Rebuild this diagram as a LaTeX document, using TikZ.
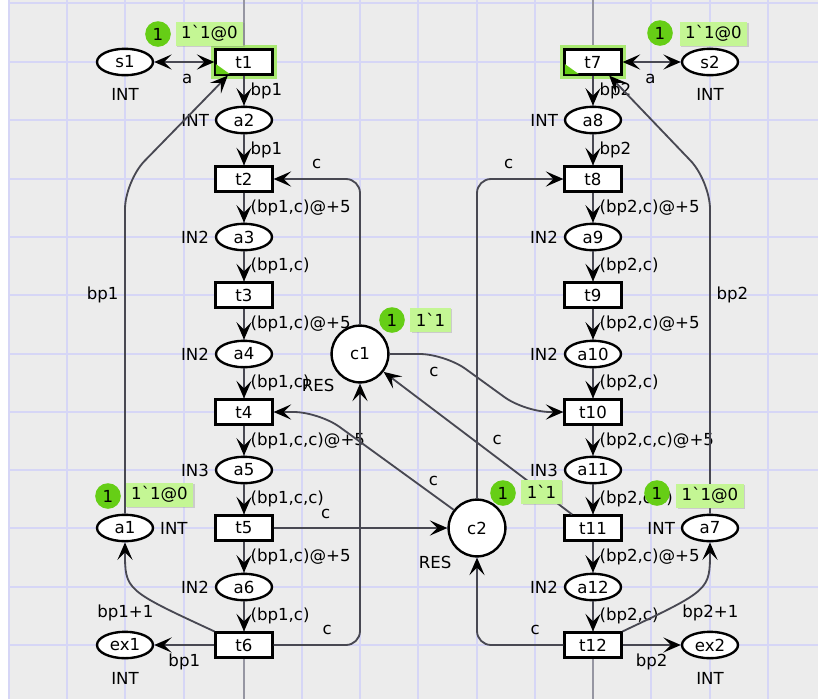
\documentclass[tikz,border=0pt]{standalone}
\usepackage{fontspec}
\setmainfont{DejaVu Sans}
\usetikzlibrary{arrows.meta, positioning, shapes.geometric, shadows}

\definecolor{canvas}{RGB}{236,236,236}
\definecolor{gridblue}{RGB}{214,214,246}
\definecolor{colgray}{RGB}{150,150,162}
\definecolor{arcgray}{RGB}{72,72,82}
\definecolor{tokgreen}{RGB}{102,206,22}
\definecolor{markgreen}{RGB}{196,246,148}
\definecolor{glowgreen}{RGB}{168,232,112}

\begin{document}
\begin{tikzpicture}[
  x=0.025cm, y=-0.025cm,
  font=\fontsize{11.8}{14}\selectfont,
  label distance=3pt,
  placebox/.style={ellipse, draw=black, line width=1.7pt, fill=white,
    minimum width=1.4cm, minimum height=0.66cm, inner sep=0pt},
  transbox/.style={rectangle, draw=black, line width=1.7pt, fill=white,
    minimum width=1.42cm, minimum height=0.62cm, inner sep=0pt},
  resbox/.style={circle, draw=black, line width=1.7pt, fill=white,
    minimum size=1.42cm, inner sep=0pt},
  enabled/.style={preaction={draw=glowgreen, line width=6pt}},
  arr/.style={-{Stealth[length=4.4mm, width=3.8mm, inset=1.9mm, color=black]}, line width=1.3pt, draw=arcgray},
  darr/.style={{Stealth[length=4.4mm, width=3.8mm, inset=1.9mm, color=black]}-{Stealth[length=4.4mm, width=3.8mm, inset=1.9mm, color=black]},
    line width=1.3pt, draw=arcgray},
  lbl/.style={inner sep=1pt},
  tok/.style={circle, fill=tokgreen, minimum size=0.64cm, inner sep=0pt},
  tokbox/.style={fill=markgreen, minimum height=0.6cm, inner xsep=4pt, inner ysep=0pt,
    drop shadow={shadow xshift=1pt, shadow yshift=-1pt, opacity=0.3}},
  gridline/.style={draw=gridblue, line width=1.2pt}
]

%% ==== Canvas and grid ====
\useasboundingbox (0,0) rectangle (818,699);
\fill[white] (0,0) rectangle (818,699);
\fill[canvas] (8.5,0) rectangle (818,699);
\foreach \gx in {9,67,125,184,244,302,360,418,477,535,593,651,710,768}
  \draw[gridline] (\gx,0) -- (\gx,699);
\foreach \gy in {3,62,120,179,237,295,354,412,470,528,587,645}
  \draw[gridline] (9,\gy) -- (818,\gy);
\draw[colgray, line width=1pt] (244,0) -- (244,699);
\draw[colgray, line width=1pt] (593,0) -- (593,699);

%% ==== Left process ====
\node[transbox, enabled] (t1) at (244, 62) {t1};
\node[placebox, label={[lbl]left:INT}] (a2) at (244,120) {a2};
\node[transbox] (t2) at (244,179) {t2};
\node[placebox, label={[lbl]left:IN2}] (a3) at (244,237) {a3};
\node[transbox] (t3) at (244,295) {t3};
\node[placebox, label={[lbl]left:IN2}] (a4) at (244,354) {a4};
\node[transbox] (t4) at (244,412) {t4};
\node[placebox, label={[lbl]left:IN3}] (a5) at (244,470) {a5};
\node[transbox] (t5) at (244,528) {t5};
\node[placebox, label={[lbl]left:IN2}] (a6) at (244,587) {a6};
\node[transbox] (t6) at (244,645) {t6};

\node[placebox, label={[lbl, yshift=-4pt]below:INT}] (s1)  at (125, 62) {s1};
\node[placebox, label={[lbl]right:INT}]              (a1)  at (125,528) {a1};
\node[placebox, label={[lbl, yshift=-5pt]below:INT}] (ex1) at (125,645) {ex1};

%% ==== Resources ====
\node[resbox, label={[lbl]below left:RES}] (c1) at (360,354) {c1};
\node[resbox, label={[lbl, yshift=-2pt]below left:RES}] (c2) at (477,528) {c2};

%% ==== Right process ====
\node[transbox, enabled] (t7) at (593, 62) {t7};
\node[placebox, label={[lbl]left:INT}] (a8) at (593,120) {a8};
\node[transbox] (t8) at (593,179) {t8};
\node[placebox, label={[lbl]left:IN2}] (a9) at (593,237) {a9};
\node[transbox] (t9) at (593,295) {t9};
\node[placebox, label={[lbl]left:IN2}] (a10) at (593,354) {a10};
\node[transbox] (t10) at (593,412) {t10};
\node[placebox, label={[lbl]left:IN3}] (a11) at (593,470) {a11};
\node[transbox] (t11) at (593,528) {t11};
\node[placebox, label={[lbl]left:IN2}] (a12) at (593,587) {a12};
\node[transbox] (t12) at (593,645) {t12};

\node[placebox, label={[lbl, yshift=-4pt]below:INT}] (s2)  at (710, 62) {s2};
\node[placebox, label={[lbl]left:INT}]               (a7)  at (710,528) {a7};
\node[placebox, label={[lbl, yshift=-5pt]below:INT}] (ex2) at (710,645) {ex2};

%% ==== Enabled marks ====
\fill[tokgreen] ([shift={(1.5,-1.5)}]t1.south west) -- ++(14,0) -- ++(-14,-10) -- cycle;
\fill[tokgreen] ([shift={(1.5,-1.5)}]t7.south west) -- ++(14,0) -- ++(-14,-10) -- cycle;

%% ==== Column arcs ====
\foreach \a/\b/\l in {t1/a2/bp1, a2/t2/bp1, t2/a3/{(bp1,c)@+5}, a3/t3/{(bp1,c)},
    t3/a4/{(bp1,c)@+5}, a4/t4/{(bp1,c)}, t4/a5/{(bp1,c,c)@+5}, a5/t5/{(bp1,c,c)},
    t5/a6/{(bp1,c)@+5}, a6/t6/{(bp1,c)}}
  \draw[arr] (\a) -- node[lbl, right=3pt] {\l} (\b);
\foreach \a/\b/\l in {t7/a8/bp2, a8/t8/bp2, t8/a9/{(bp2,c)@+5}, a9/t9/{(bp2,c)},
    t9/a10/{(bp2,c)@+5}, a10/t10/{(bp2,c)}, t10/a11/{(bp2,c,c)@+5}, a11/t11/{(bp2,c,c)},
    t11/a12/{(bp2,c)@+5}, a12/t12/{(bp2,c)}}
  \draw[arr] (\a) -- node[lbl, right=3pt] {\l} (\b);

%% ==== Left side arcs ====
\draw[darr] (s1) -- node[lbl, pos=0.55, below=7pt] {a} (t1);
\draw[arr] (t6) -- node[lbl, below=5pt] {bp1} (ex1);
\draw[arr] (t6.north west) .. controls (125,590) .. node[lbl, pos=0.3, anchor=north east] {bp1+1} (a1.south);
\draw[arr, rounded corners=20pt] (a1.north) -- node[lbl, pos=0.656, left=3pt] {bp1} (125,181) -- (t1.-140);

%% ==== Right side arcs ====
\draw[darr] (t7) -- node[lbl, pos=0.48, below=7pt] {a} (s2);
\draw[arr] (t12) -- node[lbl, below=5pt] {bp2} (ex2);
\draw[arr] (t12.north east) .. controls (710,590) .. node[lbl, pos=0.3, anchor=north west] {bp2+1} (a7.south);
\draw[arr, rounded corners=20pt] (a7.north) -- node[lbl, pos=0.656, right=3pt] {bp2} (710,181) -- (t7.-40);

%% ==== Resource arcs ====
\draw[arr, rounded corners=10pt] (c1.north) |- node[lbl, pos=0.75, above=6pt] {c} (t2.east);
\draw[arr, rounded corners=10pt] (t6.east) -| node[lbl, pos=0.31, above=6pt] {c} (c1.south);
\draw[arr, rounded corners=18pt] (c2.142) -- node[lbl, pos=0.15, above=5pt] {c} (319,412) -- (t4.east);
\draw[arr] (t5) -- node[lbl, pos=0.3, above=5pt] {c} (c2);
\draw[arr, rounded corners=18pt] (c1.east) -- node[lbl, pos=0.8, below=8pt] {c} (445,354) -- (525,412) -- (t10.west);
\draw[arr] (t11.147) -- node[lbl, pos=0.45, above right=3pt] {c} (c1);
\draw[arr, rounded corners=10pt] (c2.north) |- node[lbl, pos=0.683, above=6pt] {c} (t8.west);
\draw[arr, rounded corners=10pt] (t12.west) -| node[lbl, pos=0.163, above=6pt] {c} (c2.south);

%% ==== Markings ====
\node[tok] (s1tok) at (158,34) {1};
\node[tokbox] (s1mark) at (209.5,33.5) {1\textasciigrave 1@0};
\node[tok] (s2tok) at (660,33) {1};
\node[tokbox] (s2mark) at (713.5,33.5) {1\textasciigrave 1@0};
\node[tok] (c1tok) at (392,320) {1};
\node[tokbox] (c1mark) at (430.5,320) {1\textasciigrave 1};
\node[tok] (c2tok) at (503,493) {1};
\node[tokbox] (c2mark) at (541.5,491.5) {1\textasciigrave 1};
\node[tok] (a1tok) at (108,496) {1};
\node[tokbox] (a1mark) at (159.5,494.5) {1\textasciigrave 1@0};
\node[tok] (a7tok) at (657,493) {1};
\node[tokbox] (a7mark) at (710,495.5) {1\textasciigrave 1@0};

\end{tikzpicture}
\end{document}
